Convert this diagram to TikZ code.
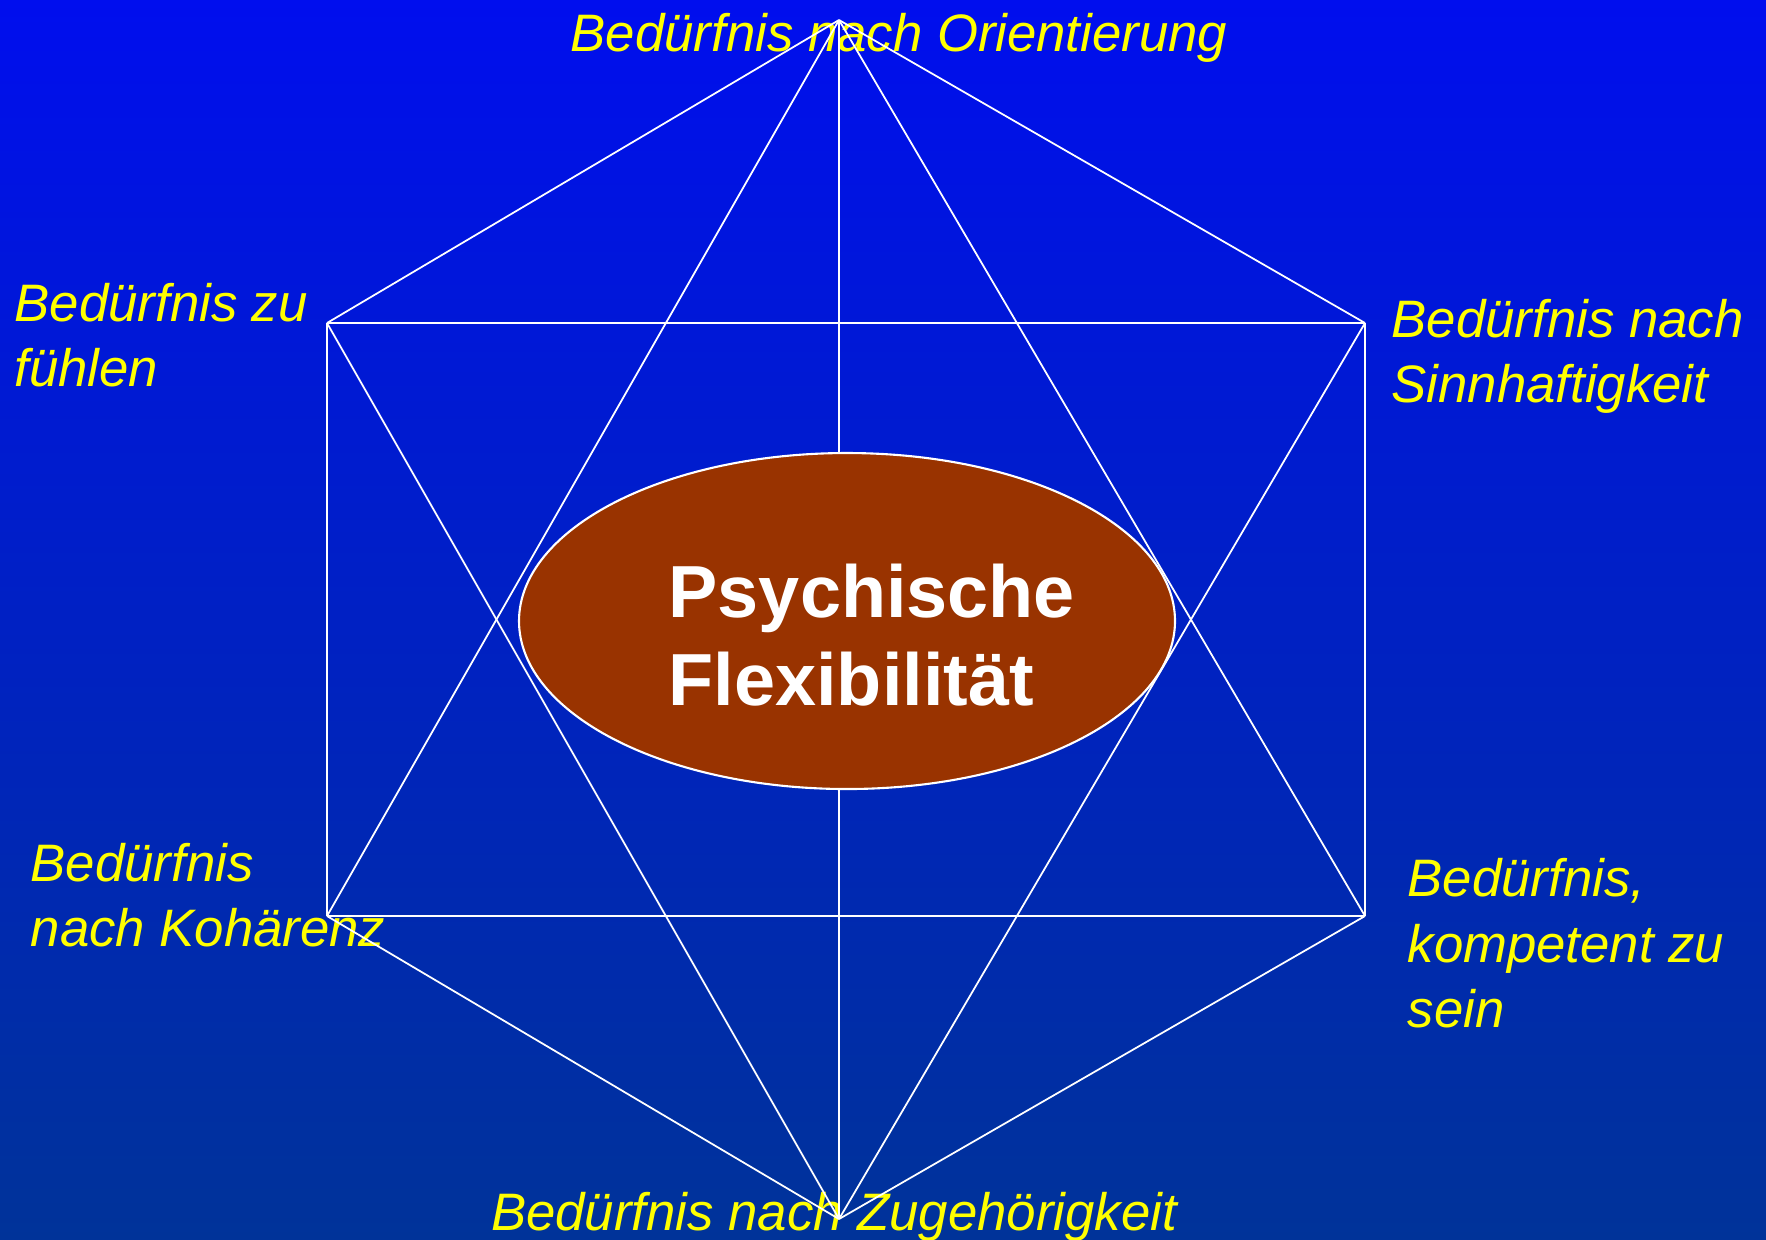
\documentclass[tikz,border=0pt]{standalone}
\usepackage{fontspec}
\setmainfont{Liberation Sans}
\usetikzlibrary{shapes.geometric}
\definecolor{bgtop}{RGB}{0,14,238}
\definecolor{bgbot}{RGB}{0,51,153}
\definecolor{kernbraun}{RGB}{153,51,0}
\definecolor{gelb}{RGB}{255,255,0}
\tikzset{
    %Define style for the need labels
    need/.style={
           text=gelb,
           font=\fontsize{15}{18.5}\selectfont\itshape,
           inner sep=0pt,
           align=left},
    %style for the centre
    kern/.style={
           ellipse,
           draw=white, line width=0.6pt,
           fill=kernbraun,
           minimum width=65.6mm,
           minimum height=33.6mm},
    kerntext/.style={
           text=white,
           font=\fontsize{21}{25}\selectfont\bfseries,
           inner sep=0pt,
           align=left},
    % Define line style
    lin/.style={
           draw=white,
           line width=0.5pt}
}

\begin{document}
\begin{tikzpicture}[x=0.1mm,y=-0.1mm]
\useasboundingbox (0,0) rectangle (1766,1239);
\shade[top color=bgtop, bottom color=bgbot] (0,0) rectangle (1766,1239);

%labels (base = last line)
\node[need, anchor=base] (ori) at (899,51) {Bedürfnis nach Orientierung};
\node[need, anchor=base west] (fue) at (14,386) {Bedürfnis zu\\fühlen};
\node[need, anchor=base west] (sinn) at (1391,402) {Bedürfnis nach\\Sinnhaftigkeit};
\node[need, anchor=base west] (koh) at (30,946) {Bedürfnis\\nach Kohärenz};
\node[need, anchor=base west] (komp) at (1407,1027) {Bedürfnis,\\kompetent zu\\sein};
\node[need, anchor=base] (zug) at (834,1230) {Bedürfnis nach Zugehörigkeit};

\coordinate (T) at (839,20);
\coordinate (UL) at (327,323);
\coordinate (UR) at (1365,323);
\coordinate (LL) at (327,916);
\coordinate (LR) at (1365,916);
\coordinate (B) at (839,1219);

\foreach \a/\b in {T/UL, T/UR, T/LL, T/LR, T/B, UL/UR, LL/LR, UL/LL, UR/LR, B/UL, B/UR, B/LL, B/LR}
  \draw[lin] (\a) -- (\b);

\node[kern] (K) at (847,621) {};
\node[kerntext, anchor=base west] (KT) at (668,705) {Psychische\\Flexibilität};

\end{tikzpicture}
\end{document}
